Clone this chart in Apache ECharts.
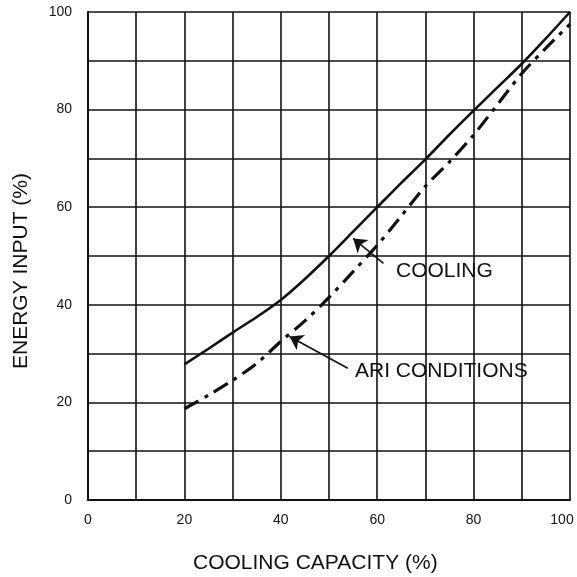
<!DOCTYPE html>
<html>
<head>
<meta charset="utf-8">
<script src="https://cdn.jsdelivr.net/npm/echarts@6/dist/echarts.min.js"></script>
<style>
html,body{margin:0;padding:0;background:#fff;overflow:hidden;}
#chart{width:577px;height:577px;}
</style>
</head>
<body>
<div id="chart"></div>
<script>
// ---- data ----
var capacity = [20,25,30,35,40,45,50,55,60,65,70,75,80,85,90,95,100];
var coolingEnergy = [27.8,31,34.3,37.5,41,45.3,50,55,60,65,69.8,74.9,79.8,84.6,89.4,94.6,100];
var ariEnergy = [18.7,21.5,24.5,28,32.5,36.7,41.5,46.8,52.2,58.2,64.3,69.3,74.8,81.1,87.4,92.6,97.5];
var xTickLabels = ['0','20','40','60','80','100'];
var yTickLabels = ['0','20','40','60','80','100'];
var xTitle = 'COOLING CAPACITY (%)';
var yTitle = 'ENERGY INPUT (%)';
var coolingLabel = 'COOLING';
var ariLabel = 'ARI CONDITIONS';
var coolingArrow = [[61.3,48.5],[55.0,53.6]];
var ariArrow = [[53.9,27.0],[41.8,33.5]];

var FONT = '"Liberation Sans", Arial, Helvetica, sans-serif';
var INK = '#111';

function pairs(xs, ys){ return xs.map(function(x,i){ return [x, ys[i]]; }); }

var chart = echarts.init(document.getElementById('chart'), null, {renderer:'canvas', width:577, height:577});
var axisCommon = {
  type:'value', min:0, max:100, interval:10,
  axisLine:{show:true, lineStyle:{color:INK, width:2}},
  axisTick:{show:false},
  splitLine:{show:true, lineStyle:{color:INK, width:1.6}},
};
chart.setOption({
  backgroundColor:'#fff',
  animation:false,
  grid:{left:88, right:7, top:12, bottom:77, containLabel:false, outerBoundsMode:'none'},
  xAxis: Object.assign({}, axisCommon, {
    axisLabel:{margin:13, fontFamily:FONT, fontSize:14, color:INK,
      rich:{last:{fontFamily:FONT, fontSize:14, color:INK, padding:[0,16,0,0]}},
      formatter:function(v){
        var s = String(v);
        if (xTickLabels.indexOf(s) < 0) return '';
        return s === xTickLabels[xTickLabels.length-1] ? '{last|' + s + '}' : s;
      }}
  }),
  yAxis: Object.assign({}, axisCommon, {
    axisLabel:{margin:16, fontFamily:FONT, fontSize:14, color:INK,
      formatter:function(v){ return yTickLabels.indexOf(String(v))>=0 ? String(v) : ''; }}
  }),
  series:[
    {
      name:'Cooling', type:'line', data:pairs(capacity, coolingEnergy),
      smooth:0.3, symbol:'none',
      lineStyle:{color:INK, width:2.6, type:'solid'},
      markLine:{
        silent:true, symbol:['none','arrow'], symbolSize:13,
        lineStyle:{color:INK, width:1.6, type:'solid'},
        itemStyle:{color:INK},
        label:{show:false},
        data:[
          [{coord:coolingArrow[0]},{coord:coolingArrow[1]}],
          [{coord:ariArrow[0]},{coord:ariArrow[1]}]
        ]
      }
    },
    {
      name:'ARI', type:'line', data:pairs(capacity, ariEnergy),
      smooth:0.3, symbol:'none',
      lineStyle:{color:INK, width:3.2, type:[16,7,4,7], cap:'butt'}
    }
  ],
  graphic:[
    {type:'text', left:193, top:553, style:{text:xTitle, font:'21px '+FONT, fill:INK}},
    {type:'text', x:11, y:369, rotation:Math.PI/2, style:{text:yTitle, font:'21px '+FONT, fill:INK}},
    {type:'text', left:396, top:261, style:{text:coolingLabel, font:'21px '+FONT, fill:INK}},
    {type:'text', left:355, top:361, style:{text:ariLabel, font:'21px '+FONT, fill:INK}}
  ]
});
</script>
</body>
</html>
